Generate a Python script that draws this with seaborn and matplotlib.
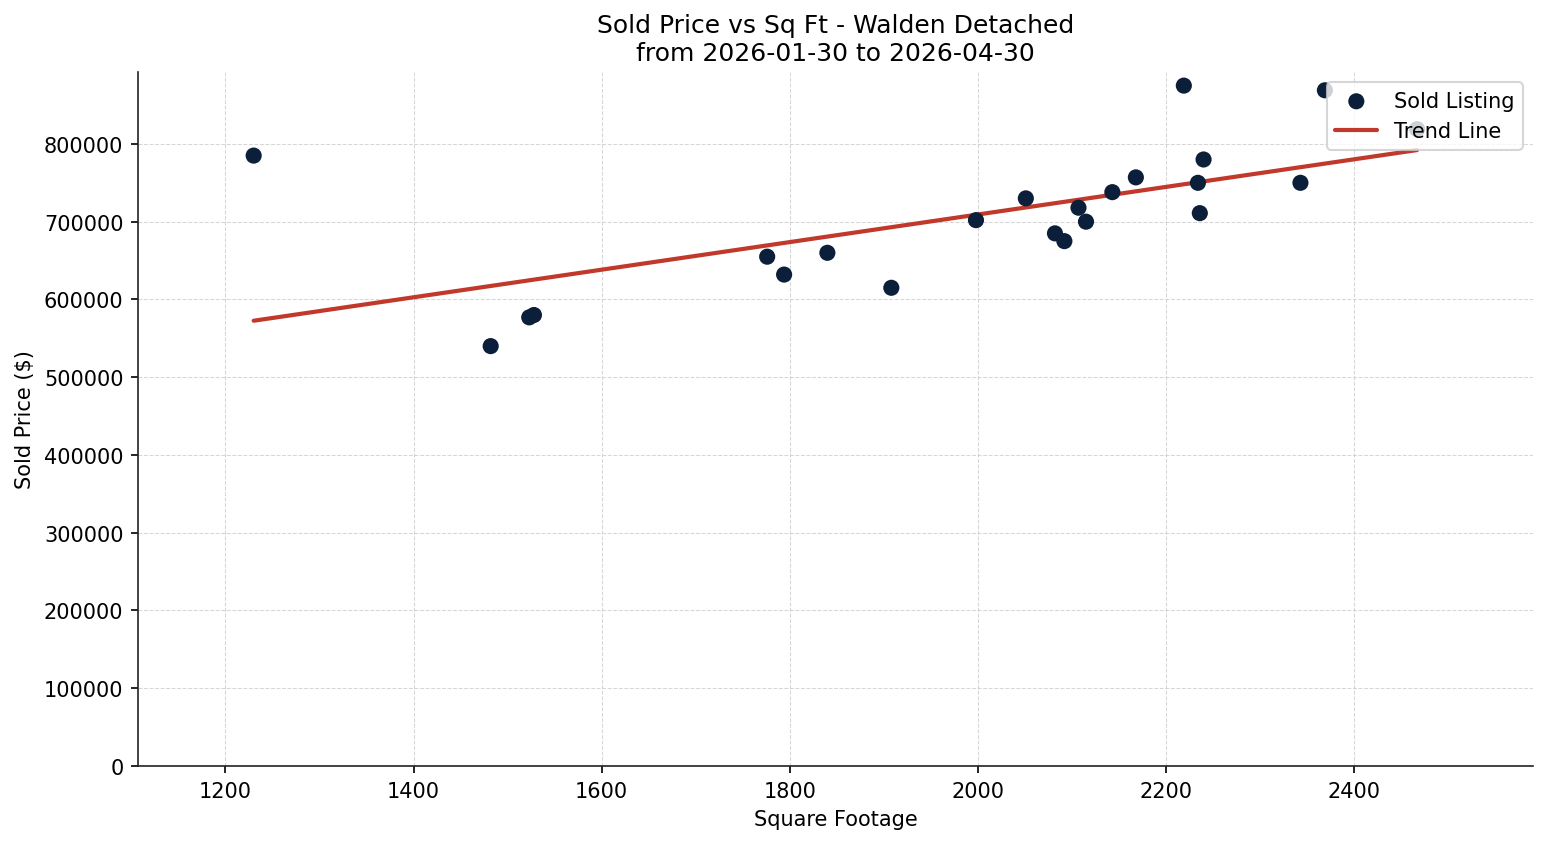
import numpy as np
import pandas as pd
import matplotlib
matplotlib.use('Agg')
import matplotlib.pyplot as plt
import seaborn as sns

# ── Data ──────────────────────────────────────────────────────────────────────
SQFT = [1230, 1482, 1523, 1528, 1776, 1794, 1840, 1908, 1998, 2051, 2082,
        2092, 2107, 2115, 2143, 2168, 2219, 2234, 2236, 2240, 2343, 2369, 2467]
PRICE = [785000, 540000, 577000, 580000, 655000, 632000, 660000, 615000,
         702000, 730000, 685000, 675000, 718000, 700000, 738000, 757000,
         875000, 750000, 711000, 780000, 750000, 869000, 819000]
TITLE = 'Sold Price vs Sq Ft - Walden Detached\nfrom 2026-01-30 to 2026-04-30'

POINT_COLOR = '#0b1f3a'
LINE_COLOR = '#c0392b'

df = pd.DataFrame({'sqft': SQFT, 'price': PRICE})

# ── Trend line (least squares) ───────────────────────────────────────────────
slope, intercept = np.polyfit(df['sqft'], df['price'], 1)
trend = pd.DataFrame({'sqft': [df['sqft'].min(), df['sqft'].max()]})
trend['price'] = slope * trend['sqft'] + intercept

# ── Plot ──────────────────────────────────────────────────────────────────────
sns.set_style('ticks')
plt.rcParams.update({
    'text.color': 'black',
    'axes.labelcolor': 'black',
    'xtick.color': 'black',
    'ytick.color': 'black',
    'axes.edgecolor': '#222222',
})
fig, ax = plt.subplots(figsize=(10.3133, 5.6333), dpi=150)

sns.scatterplot(data=df, x='sqft', y='price', color=POINT_COLOR, s=60,
                edgecolor='none', label='Sold Listing', ax=ax, zorder=3)
sns.lineplot(data=trend, x='sqft', y='price', color=LINE_COLOR, linewidth=2,
             label='Trend Line', ax=ax, zorder=2)

ax.set_xlim(df['sqft'].min() * 0.9, df['sqft'].max() * 1.05)
ax.set_ylim(0, df['price'].max() * 1.02)
ax.ticklabel_format(style='plain', axis='y')

ax.set_title(TITLE, fontsize=12)
ax.set_xlabel('Square Footage', fontsize=10)
ax.set_ylabel('Sold Price ($)', fontsize=10)
ax.grid(True, linestyle='--', linewidth=0.5, color='#cccccc', alpha=0.8)
ax.legend(loc='upper right', fontsize=10)
sns.despine(ax=ax)

fig.subplots_adjust(left=0.0892, right=0.991, top=0.9136, bottom=0.0923)
plt.savefig('out.png', dpi=150)
plt.close()
